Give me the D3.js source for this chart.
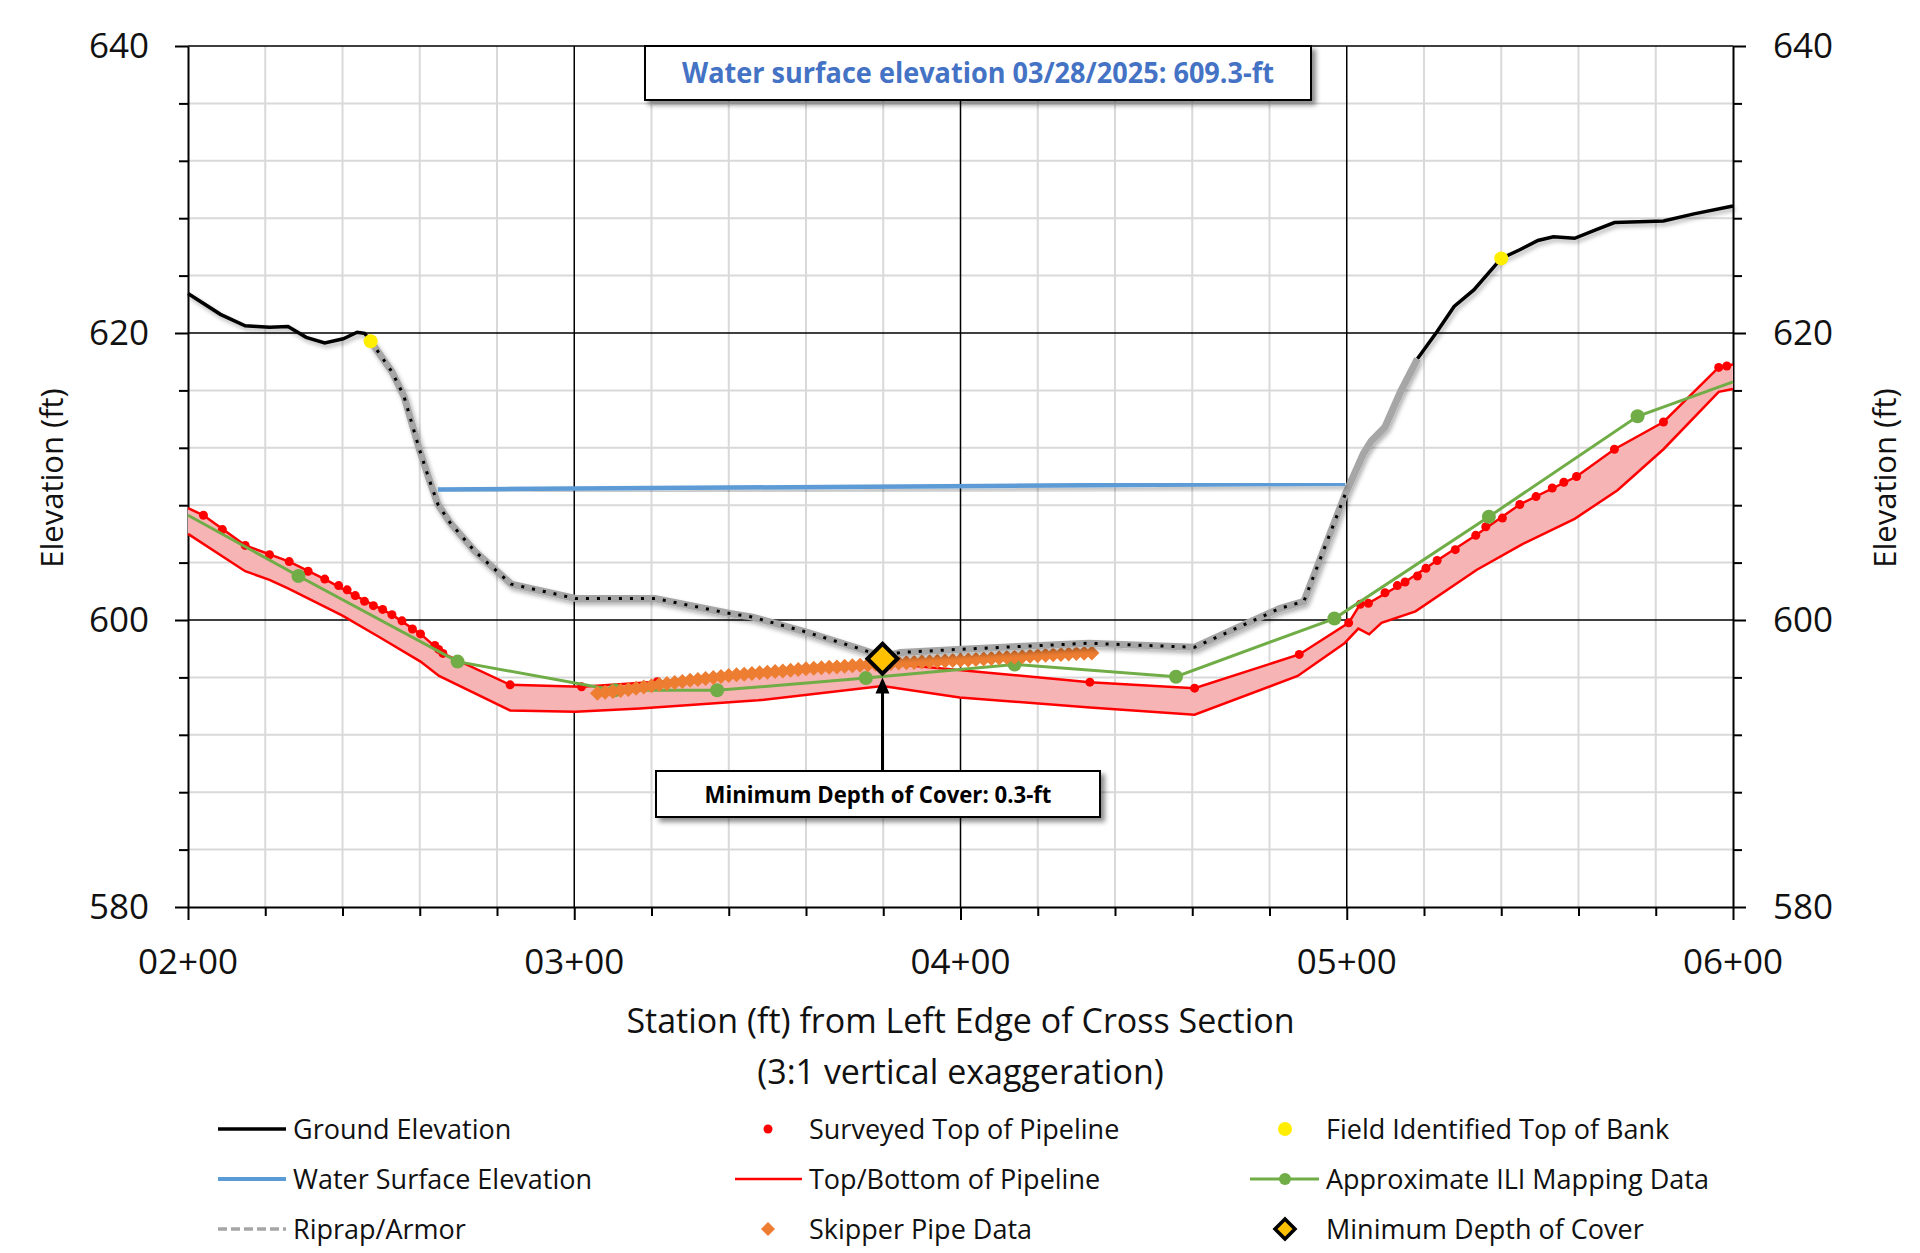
<!DOCTYPE html>
<html>
<head>
<meta charset="utf-8">
<script src="https://cdn.jsdelivr.net/npm/d3@7"></script>
<style>
  html, body { margin: 0; background: #fff; }
  svg { display: block; font-family: "Open Sans", sans-serif; }
</style>
</head>
<body>
<svg id="chart" width="1920" height="1253"></svg>
<script>
// station (ft), elevation (ft)
const groundProfile = [
  [200, 622.75], [208.4, 621.3], [214.8, 620.5], [221.1, 620.4], [225.9, 620.45], [230.6, 619.7],
  [235.4, 619.3], [240.2, 619.6], [243.8, 620.05], [245.7, 619.98], [247.3, 619.43], [252.8, 617.3],
  [255.9, 615.6], [259.9, 611.9], [262.3, 609.9], [264.7, 608.06], [267.8, 606.8], [274.2, 604.8],
  [283.7, 602.5], [300.3, 601.5], [320.9, 601.5], [340.3, 600.45], [346.2, 600.2], [360.1, 599.16],
  [373.9, 598.0], [379.8, 597.45], [384.5, 597.74], [399.3, 597.95], [433.2, 598.38], [460.6, 598.1],
  [482.6, 600.8], [488.9, 601.3], [499.6, 608.76], [504.3, 611.6], [506.3, 612.46], [509.9, 613.45],
  [513.9, 615.9], [518.3, 618.2], [523.4, 620.1], [527.8, 621.85], [532.9, 623.0], [540.0, 625.2],
  [544.8, 625.8], [549.5, 626.45], [553.5, 626.7], [559.0, 626.6], [564.6, 627.2], [569.3, 627.7],
  [582.0, 627.8], [589.9, 628.3], [600, 628.85]
]
const riprapExtent = [247.3, 518.3]
const riprapUnderwater = [247.3, 499.6]

const waterSurface = [[264.7, 609.1], [499.6, 609.5]]

const surveyedTop = [
  [204, 607.3], [208.9, 606.3], [214.8, 605.2], [221.1, 604.55], [226.2, 604.07], [231.1, 603.4],
  [235.4, 602.85], [239, 602.4], [241.2, 602.1], [243.3, 601.7], [245.7, 601.3], [248, 601.0],
  [250.4, 600.74], [252.8, 600.37], [255.4, 599.94], [258.1, 599.37], [260.2, 599.03], [263.9, 598.23],
  [264.9, 597.95], [266, 597.67], [283.4, 595.48], [301.9, 595.34], [321.5, 595.7], [433.5, 595.67],
  [460.6, 595.25], [487.7, 597.6], [500.5, 599.8], [503.5, 601.1], [505.6, 601.16], [509.9, 601.9],
  [513.1, 602.4], [515.1, 602.65], [518.3, 603.07], [520.5, 603.6], [523.4, 604.15], [528.1, 604.9],
  [533.4, 605.9], [536.0, 606.5], [540.3, 607.1], [544.8, 608.05], [549.0, 608.6], [553.2, 609.2],
  [556.2, 609.6], [559.5, 610.0], [569.3, 611.9], [582.0, 613.8], [596.3, 617.6], [598.4, 617.7]
]

const pipeTop = [
  [200, 607.8], [204, 607.3], [214.8, 605.2], [226.2, 604.07], [235.4, 602.85], [243.3, 601.7],
  [252.8, 600.37], [260.2, 599.03], [266, 597.67], [283.4, 595.48], [301.9, 595.34], [321.5, 595.7],
  [380, 597.0], [433.5, 595.67], [460.6, 595.25], [487.7, 597.6], [500.5, 599.8], [503.5, 601.1],
  [505.6, 601.16], [515.1, 602.65], [523.4, 604.15], [533.4, 605.9], [544.8, 608.05], [559.5, 610.0],
  [569.3, 611.9], [582.0, 613.8], [596.3, 617.6], [600, 617.8]
]

const pipeBottom = [
  [200, 606.0], [214.8, 603.4], [221.1, 602.8], [225.9, 602.2], [240, 600.3], [249.6, 598.8],
  [260.2, 597.1], [265, 596.1], [283.4, 593.7], [300.3, 593.6], [317, 593.84], [347.6, 594.4],
  [379.8, 595.4], [399.8, 594.6], [433.5, 593.9], [460.6, 593.4], [487.3, 596.1], [499.5, 598.4],
  [503, 599.4], [505.8, 599.0], [509, 599.8], [517.8, 600.6], [533.7, 603.5], [545.6, 605.3],
  [559, 607.05], [570.1, 609.04], [582, 611.9], [596.3, 615.9], [600, 616.1]
]

const iliMapping = [
  [200, 607.3], [228.6, 603.07], [269.8, 597.1], [310.5, 595.1], [337, 595.1], [375.5, 595.95],
  [414, 596.9], [455.8, 596.05], [496.8, 600.1], [536.8, 607.2], [575.3, 614.2], [600, 616.6]
]
const iliDotted = [228.6, 269.8, 310.5, 337, 375.5, 414, 455.8, 496.8, 536.8, 575.3]

const skipperPipe = [
  [306, 594.90], [308, 594.96], [310, 595.02], [312, 595.08], [314, 595.15], [316, 595.24],
  [318, 595.33], [320, 595.42], [322, 595.50], [324, 595.57], [326, 595.64], [328, 595.72],
  [330, 595.80], [332, 595.86], [334, 595.93], [336, 596.00], [338, 596.07], [340, 596.13],
  [342, 596.18], [344, 596.22], [346, 596.27], [348, 596.32], [350, 596.36], [352, 596.41],
  [354, 596.45], [356, 596.50], [358, 596.55], [360, 596.60], [362, 596.63], [364, 596.67],
  [366, 596.70], [368, 596.73], [370, 596.77], [372, 596.81], [374, 596.84], [376, 596.88],
  [378, 596.92], [380, 596.95], [382, 596.97], [384, 597.00], [386, 597.02], [388, 597.04],
  [390, 597.07], [392, 597.09], [394, 597.12], [396, 597.15], [398, 597.18], [400, 597.20],
  [402, 597.22], [404, 597.25], [406, 597.28], [408, 597.31], [410, 597.35], [412, 597.38],
  [414, 597.41], [416, 597.44], [418, 597.47], [420, 597.51], [422, 597.54], [424, 597.57],
  [426, 597.60], [428, 597.63], [430, 597.66], [432, 597.68], [434, 597.70]
]

const topOfBank = [[247.3, 619.43], [540.0, 625.2]]
const minCover = [379.8, 597.3]
const minCoverArrowTip = 596.0

const xTicks = [200, 300, 400, 500, 600]
const xTickLabels = ['02+00', '03+00', '04+00', '05+00', '06+00']
const yTicks = [580, 600, 620, 640]

const waterNote = 'Water surface elevation 03/28/2025: 609.3-ft'
const coverNote = 'Minimum Depth of Cover: 0.3-ft'

const legendItems = [
  ['Ground Elevation', 'ground'], ['Water Surface Elevation', 'water'], ['Riprap/Armor', 'riprap'],
  ['Surveyed Top of Pipeline', 'surveyed'], ['Top/Bottom of Pipeline', 'pipe'], ['Skipper Pipe Data', 'skipper'],
  ['Field Identified Top of Bank', 'bank'], ['Approximate ILI Mapping Data', 'ili'], ['Minimum Depth of Cover', 'cover']
]

const colors = {
  ground: '#000', water: '#5B9BD5', riprap: '#A6A6A6', red: '#FF0000', fill: '#F7B4B4',
  green: '#70AD47', orange: '#ED7D31', yellow: '#FFEE00', cover: '#FFC000', grid: '#D9D9D9', note: '#4472C4'
}

const margin = { top: 46, right: 187, bottom: 346, left: 188 }
const width = 1920
const height = 1253
const plotW = width - margin.left - margin.right
const plotH = height - margin.top - margin.bottom

const xScale = d3.scaleLinear().domain([200, 600]).range([margin.left, margin.left + plotW])
const yScale = d3.scaleLinear().domain([580, 640]).range([margin.top + plotH, margin.top])

const svg = d3.select('#chart')
const defs = svg.append('defs')
defs.append('filter').attr('id', 'shadow').attr('x', '-10%').attr('y', '-10%').attr('width', '120%').attr('height', '140%')
  .append('feDropShadow').attr('dx', 2).attr('dy', 3).attr('stdDeviation', 2)
  .attr('flood-color', '#000').attr('flood-opacity', 0.3)
defs.append('filter').attr('id', 'boxShadow').attr('x', '-10%').attr('y', '-20%').attr('width', '120%').attr('height', '160%')
  .append('feDropShadow').attr('dx', 4).attr('dy', 4).attr('stdDeviation', 2.5)
  .attr('flood-color', '#000').attr('flood-opacity', 0.45)

const line = d3.line().x(d => xScale(d[0])).y(d => yScale(d[1]))

// grid
const grid = svg.append('g')
grid.selectAll('.vminor').data(d3.range(220, 600, 20).filter(v => v % 100 !== 0)).join('line')
  .attr('x1', d => xScale(d)).attr('x2', d => xScale(d))
  .attr('y1', yScale(580)).attr('y2', yScale(640))
  .style('stroke', colors.grid).style('stroke-width', 2)
grid.selectAll('.hminor').data(d3.range(584, 640, 4).filter(v => v % 20 !== 0)).join('line')
  .attr('x1', xScale(200)).attr('x2', xScale(600))
  .attr('y1', d => yScale(d)).attr('y2', d => yScale(d))
  .style('stroke', colors.grid).style('stroke-width', 2)
grid.selectAll('.vmajor').data([300, 400, 500]).join('line')
  .attr('x1', d => xScale(d)).attr('x2', d => xScale(d))
  .attr('y1', yScale(580)).attr('y2', yScale(640))
  .style('stroke', '#000').style('stroke-width', 1.5)
grid.selectAll('.hmajor').data([600, 620, 640]).join('line')
  .attr('x1', xScale(200)).attr('x2', xScale(600))
  .attr('y1', d => yScale(d)).attr('y2', d => yScale(d))
  .style('stroke', '#000').style('stroke-width', 1.5)

// axes
const xAxis = d3.axisBottom(xScale).tickValues(d3.range(200, 601, 20)).tickFormat('')
  .tickSize(10).tickSizeOuter(0)
const xAxisG = svg.append('g').attr('transform', `translate(0, ${yScale(580)})`).call(xAxis)
xAxisG.selectAll('.tick line').attr('y2', d => d % 100 === 0 ? 13 : 9)

const yLeft = d3.axisLeft(yScale).tickValues(d3.range(580, 641, 4)).tickFormat('').tickSize(10).tickSizeOuter(0)
const yLeftG = svg.append('g').attr('transform', `translate(${xScale(200)}, 0)`).call(yLeft)
yLeftG.selectAll('.tick line').attr('x2', d => d % 20 === 0 ? -13 : -9)
const yRight = d3.axisRight(yScale).tickValues(d3.range(580, 641, 4)).tickFormat('').tickSize(10).tickSizeOuter(0)
const yRightG = svg.append('g').attr('transform', `translate(${xScale(600)}, 0)`).call(yRight)
yRightG.selectAll('.tick line').attr('x2', d => d % 20 === 0 ? 13 : 9)
svg.selectAll('.domain').style('stroke', '#000').style('stroke-width', 2)
svg.selectAll('.tick line').style('stroke', '#000').style('stroke-width', 2)

svg.append('g').selectAll('text').data(xTicks).join('text')
  .attr('x', d => xScale(d)).attr('y', yScale(580) + 67)
  .attr('text-anchor', 'middle').style('font-size', '35px').style('fill', '#111')
  .text((d, i) => xTickLabels[i])
svg.append('g').selectAll('text').data(yTicks).join('text')
  .attr('x', xScale(200) - 39).attr('y', d => yScale(d) + 12)
  .attr('text-anchor', 'end').style('font-size', '35px').style('fill', '#111')
  .text(d => d)
svg.append('g').selectAll('text').data(yTicks).join('text')
  .attr('x', xScale(600) + 40).attr('y', d => yScale(d) + 12)
  .attr('text-anchor', 'start').style('font-size', '35px').style('fill', '#111')
  .text(d => d)

// axis titles
svg.append('text').attr('x', (xScale(200) + xScale(600)) / 2).attr('y', 1033)
  .attr('text-anchor', 'middle').style('font-size', '34px').style('fill', '#111')
  .text('Station (ft) from Left Edge of Cross Section')
svg.append('text').attr('x', (xScale(200) + xScale(600)) / 2).attr('y', 1084)
  .attr('text-anchor', 'middle').style('font-size', '34px').style('fill', '#111')
  .text('(3:1 vertical exaggeration)')
svg.append('text').attr('transform', `translate(63, 478) rotate(-90)`)
  .attr('text-anchor', 'middle').style('font-size', '31px').style('fill', '#111')
  .text('Elevation (ft)')
svg.append('text').attr('transform', `translate(1896, 478) rotate(-90)`)
  .attr('text-anchor', 'middle').style('font-size', '31px').style('fill', '#111')
  .text('Elevation (ft)')

// pipeline band
const plot = svg.append('g')
plot.append('path')
  .attr('d', line(pipeTop.concat(pipeBottom.slice().reverse())) + 'Z')
  .style('fill', colors.fill).style('stroke', 'none')
plot.append('path').attr('d', line(pipeTop)).style('fill', 'none').style('stroke', colors.red).style('stroke-width', 2.5)
plot.append('path').attr('d', line(pipeBottom)).style('fill', 'none').style('stroke', colors.red).style('stroke-width', 2.5)
plot.append('g').selectAll('circle').data(surveyedTop).join('circle')
  .attr('cx', d => xScale(d[0])).attr('cy', d => yScale(d[1])).attr('r', 4.5)
  .style('fill', colors.red)

// ILI mapping
plot.append('path').attr('d', line(iliMapping)).style('fill', 'none').style('stroke', colors.green).style('stroke-width', 3)
plot.append('g').selectAll('circle').data(iliMapping.filter(d => iliDotted.includes(d[0]))).join('circle')
  .attr('cx', d => xScale(d[0])).attr('cy', d => yScale(d[1])).attr('r', 7)
  .style('fill', colors.green)

// skipper pipe data
const diamond = (r) => `M0,${-r} L${r},0 L0,${r} L${-r},0Z`
plot.append('g').selectAll('path').data(skipperPipe).join('path')
  .attr('transform', d => `translate(${xScale(d[0])}, ${yScale(d[1])})`)
  .attr('d', diamond(7.5)).style('fill', colors.orange)

// ground, riprap, water
const inRange = (r) => groundProfile.filter(d => d[0] >= r[0] && d[0] <= r[1])
plot.append('path').attr('d', line(groundProfile.filter(d => d[0] <= riprapExtent[0])))
  .style('fill', 'none').style('stroke', colors.ground).style('stroke-width', 3.5).attr('filter', 'url(#shadow)')
plot.append('path').attr('d', line(groundProfile.filter(d => d[0] >= riprapExtent[1])))
  .style('fill', 'none').style('stroke', colors.ground).style('stroke-width', 3.5).attr('filter', 'url(#shadow)')
plot.append('path').attr('d', line(inRange(riprapExtent)))
  .style('fill', 'none').style('stroke', colors.riprap).style('stroke-width', 7).attr('filter', 'url(#shadow)')
plot.append('path').attr('d', line(inRange(riprapUnderwater)))
  .style('fill', 'none').style('stroke', '#000').style('stroke-width', 3).style('stroke-dasharray', '3,8')

plot.append('path').attr('d', line(waterSurface))
  .style('fill', 'none').style('stroke', colors.water).style('stroke-width', 4.5).attr('filter', 'url(#shadow)')

plot.append('g').selectAll('circle').data(topOfBank).join('circle')
  .attr('cx', d => xScale(d[0])).attr('cy', d => yScale(d[1])).attr('r', 7)
  .style('fill', colors.yellow)

// minimum depth of cover
const cx = xScale(minCover[0])
const boxTop = 771
plot.append('line').attr('x1', cx).attr('x2', cx).attr('y1', boxTop).attr('y2', yScale(minCoverArrowTip) + 14)
  .style('stroke', '#000').style('stroke-width', 3)
plot.append('path')
  .attr('d', `M${cx},${yScale(minCoverArrowTip)} L${cx - 7},${yScale(minCoverArrowTip) + 16} L${cx + 7},${yScale(minCoverArrowTip) + 16}Z`)
  .style('fill', '#000')
plot.append('path')
  .attr('transform', `translate(${cx}, ${yScale(minCover[1])})`)
  .attr('d', diamond(15))
  .style('fill', colors.cover).style('stroke', '#000').style('stroke-width', 4).style('stroke-linejoin', 'miter')

// notes
const notes = svg.append('g')
notes.append('rect').attr('x', 645).attr('y', 46).attr('width', 666).attr('height', 54)
  .style('fill', '#fff').style('stroke', '#000').style('stroke-width', 2).attr('filter', 'url(#boxShadow)')
notes.append('text').attr('x', 978).attr('y', 83).attr('text-anchor', 'middle')
  .attr('textLength', 592).attr('lengthAdjust', 'spacingAndGlyphs')
  .style('font-size', '29px').style('font-weight', 'bold').style('fill', colors.note)
  .text(waterNote)
notes.append('rect').attr('x', 656).attr('y', boxTop).attr('width', 444).attr('height', 46)
  .style('fill', '#fff').style('stroke', '#000').style('stroke-width', 2).attr('filter', 'url(#boxShadow)')
notes.append('text').attr('x', 878).attr('y', 803).attr('text-anchor', 'middle')
  .attr('textLength', 347).attr('lengthAdjust', 'spacingAndGlyphs')
  .style('font-size', '24px').style('font-weight', 'bold').style('fill', '#000')
  .text(coverNote)

// legend
const legendCols = [{ line: [218, 286], mark: 252, text: 293 }, { line: [735, 802], mark: 768, text: 809 }, { line: [1250, 1319], mark: 1285, text: 1326 }]
const legendRows = [1129, 1179, 1229]
const legend = svg.append('g')
legendItems.forEach(([label, key], i) => {
  const col = legendCols[Math.floor(i / 3)]
  const ry = legendRows[i % 3]
  const g = legend.append('g')
  if (key === 'ground') g.append('line').attr('x1', col.line[0]).attr('x2', col.line[1]).attr('y1', ry).attr('y2', ry).style('stroke', '#000').style('stroke-width', 3.5)
  if (key === 'water') g.append('line').attr('x1', col.line[0]).attr('x2', col.line[1]).attr('y1', ry).attr('y2', ry).style('stroke', colors.water).style('stroke-width', 4)
  if (key === 'riprap') g.append('line').attr('x1', col.line[0]).attr('x2', col.line[1]).attr('y1', ry).attr('y2', ry).style('stroke', colors.riprap).style('stroke-width', 3.5).style('stroke-dasharray', '9,4')
  if (key === 'surveyed') g.append('circle').attr('cx', col.mark).attr('cy', ry).attr('r', 4.5).style('fill', colors.red)
  if (key === 'pipe') g.append('line').attr('x1', col.line[0]).attr('x2', col.line[1]).attr('y1', ry).attr('y2', ry).style('stroke', colors.red).style('stroke-width', 2.5)
  if (key === 'skipper') g.append('path').attr('transform', `translate(${col.mark}, ${ry})`).attr('d', diamond(7)).style('fill', colors.orange)
  if (key === 'bank') g.append('circle').attr('cx', col.mark).attr('cy', ry).attr('r', 7).style('fill', colors.yellow)
  if (key === 'ili') {
    g.append('line').attr('x1', col.line[0]).attr('x2', col.line[1]).attr('y1', ry).attr('y2', ry).style('stroke', colors.green).style('stroke-width', 3)
    g.append('circle').attr('cx', col.mark).attr('cy', ry).attr('r', 6).style('fill', colors.green)
  }
  if (key === 'cover') g.append('path').attr('transform', `translate(${col.mark}, ${ry})`).attr('d', diamond(10))
    .style('fill', colors.cover).style('stroke', '#000').style('stroke-width', 3.5)
  g.append('text').attr('x', col.text).attr('y', ry + 10).style('font-size', '27px').style('fill', '#111').text(label)
})
</script>
</body>
</html>
